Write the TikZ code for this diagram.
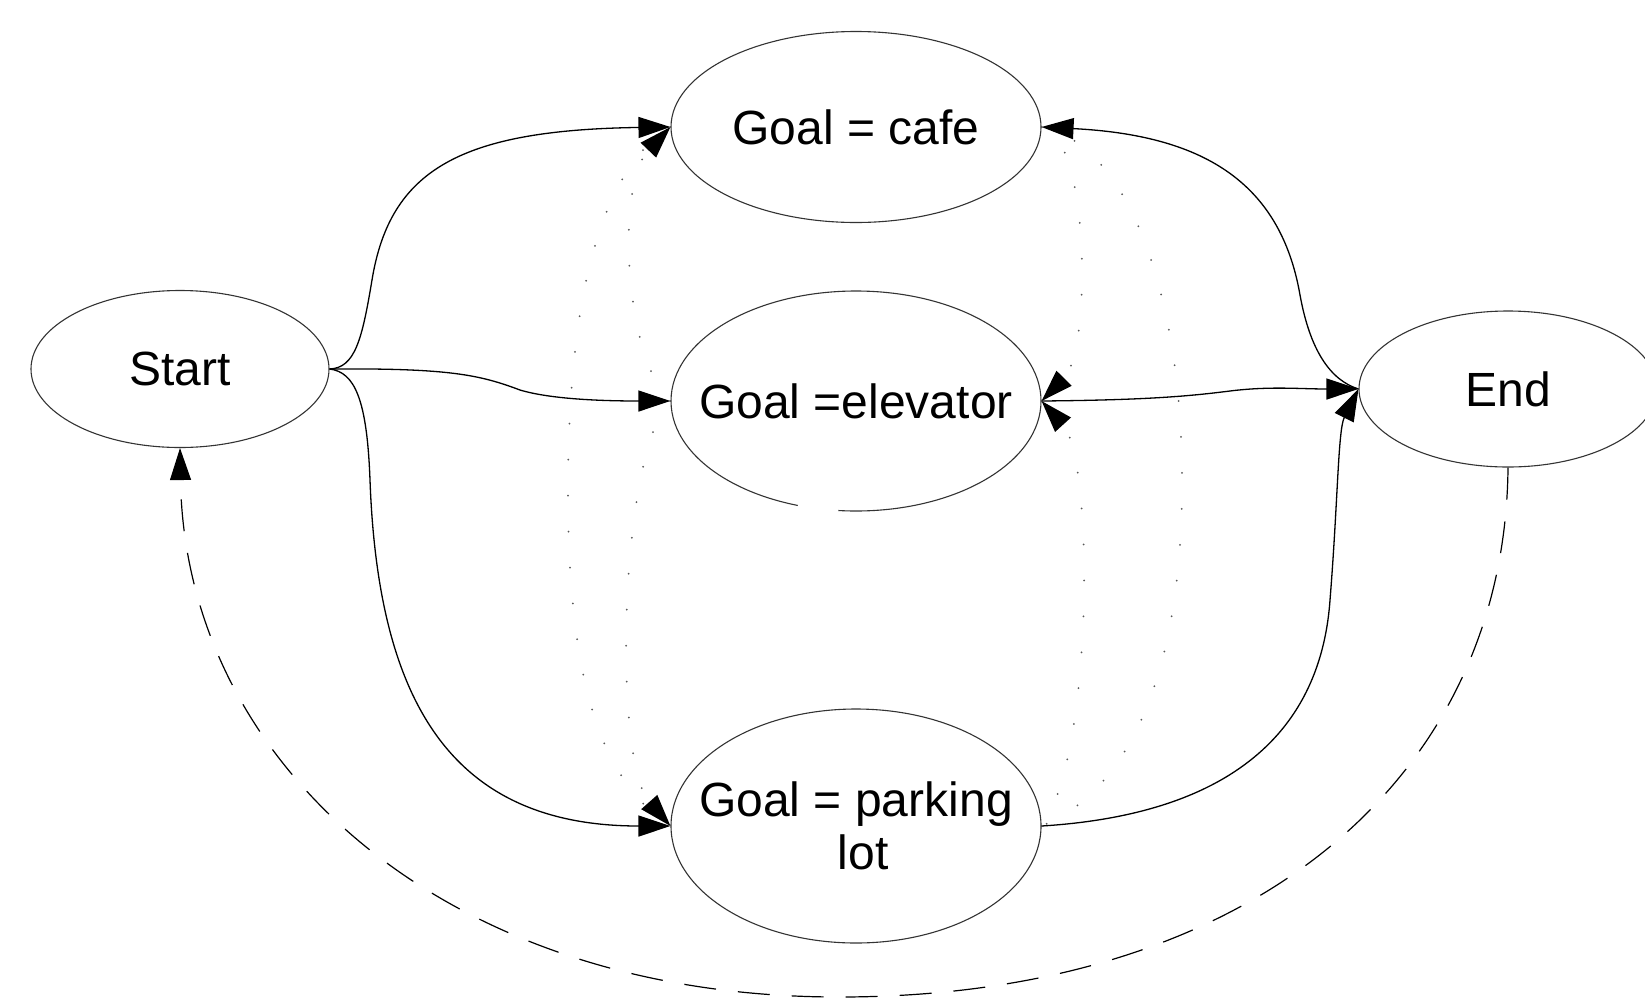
\documentclass[tikz,border=0pt]{standalone}
\usepackage{fontspec}
\setmainfont{Liberation Sans}
\usetikzlibrary{shapes.geometric,arrows.meta}
\begin{document}
\begin{tikzpicture}[x=1pt,y=-1pt,
  state/.style={ellipse, draw=black!80, line width=1.1pt, inner xsep=-200pt, inner ysep=-100pt,
    font=\fontsize{48}{53}\selectfont, align=center},
  conn/.style={line width=1.3pt, -{Triangle[length=32pt,width=21pt]}},
  dotsa/.style={draw=black!65, line width=2pt, line cap=round, dash pattern=on 0pt off 36pt,
    -{Triangle[length=32pt,width=21pt,color=black]}},
  dotsb/.style={draw=black!65, line width=2pt, line cap=round, dash pattern=on 0pt off 36pt},
  ret/.style={line width=1.2pt, dash pattern=on 32pt off 22pt, -{Triangle[length=32pt,width=21pt]}}]
\fill[white] (0,0) rectangle (1645,1007);
\clip (0,0) rectangle (1645,1007);
\node[state, minimum width=298pt, minimum height=157pt] (start) at (180,369) {Start};
\node[state, minimum width=370pt, minimum height=191pt] (cafe) at (856,127) {Goal = cafe};
\node[state, minimum width=370pt, minimum height=220pt] (elev) at (856,401) {Goal =elevator};
\node[state, minimum width=370pt, minimum height=234pt] (park) at (856,826) {Goal = parking\\\hspace*{14pt}lot};
\node[state, minimum width=298pt, minimum height=156pt] (endn) at (1508,389) {End};
% gap in the elevator outline
\draw[white, line width=4pt] plot[domain=95.5:108.3, samples=20] ({856+185*cos(\x)},{401+110*sin(\x)});
% dotted links
\draw[dotsa] (elev.west) .. controls (625,360) and (615,185) .. (cafe.west);
\draw[dotsa] (elev.west) .. controls (620,450) and (612,760) .. (park.west);
\draw[dotsb] (cafe.west) .. controls (600,170) and (568,300) .. (568,490) .. controls (568,680) and (600,780) .. (park.west);
\draw[dotsa] (cafe.east) .. controls (1090,135) and (1092,350) .. (elev.east);
\draw[dotsa] (park.east) .. controls (1093,760) and (1095,460) .. (elev.east);
\draw[dotsb] (cafe.east) .. controls (1130,145) and (1182,300) .. (1182,478) .. controls (1183,670) and (1130,790) .. (park.east);
% main connectors
\draw[conn] (start.east) .. controls (355,368) and (362,340) .. (372,280) .. controls (390,170) and (460,130) .. (cafe.west);
\draw[conn] (start.east) .. controls (450,368) and (480,375) .. (520,390) .. controls (550,399) and (600,401) .. (elev.west);
\draw[conn] (start.east) .. controls (355,372) and (367,400) .. (370,480) .. controls (378,700) and (450,826) .. (park.west);
\draw[conn] (elev.east) .. controls (1150,400) and (1190,396) .. (1230,391) .. controls (1270,386) and (1300,389) .. (endn.west);
\draw[conn] (endn.west) .. controls (1330,380) and (1310,350) .. (1300,295) .. controls (1280,180) and (1200,135) .. (cafe.east);
\draw[conn] (park.east) .. controls (1220,815) and (1320,740) .. (1330,600) .. controls (1338,500) and (1338,430) .. (endn.west);
\draw[ret] (endn.south) .. controls (1505,780) and (1250,997) .. (839,997) .. controls (440,997) and (185,760) .. (start.south);
\end{tikzpicture}
\end{document}
